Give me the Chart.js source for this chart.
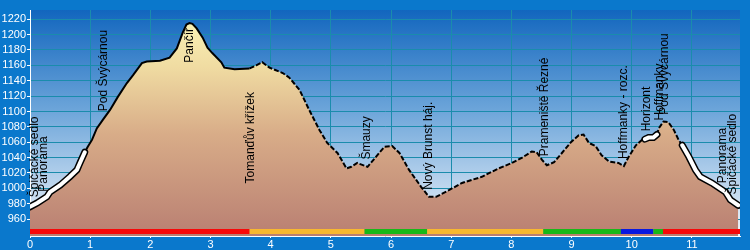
<!DOCTYPE html>
<html>
<head>
<meta charset="utf-8">
<style>
  html, body { margin: 0; padding: 0; background: #0a78cc; }
  #wrap { width: 750px; height: 250px; }
</style>
<script src="https://cdn.jsdelivr.net/npm/chart.js@4/dist/chart.umd.min.js"></script>
</head>
<body>
<div id="wrap"><canvas id="profile" width="750" height="250"></canvas></div>
<script>
// Distance (km) and elevation (m)
const km = [
  0.00, 0.12, 0.28, 0.33, 0.50, 0.66, 0.78, 0.83, 0.91, 0.96,
  1.03, 1.11, 1.21, 1.33, 1.46, 1.61, 1.71, 1.86, 1.94, 2.16,
  2.32, 2.44, 2.54, 2.60, 2.65, 2.70, 2.77, 2.87, 2.95, 3.03,
  3.18, 3.23, 3.40, 3.65, 3.76, 3.86, 3.98, 4.20, 4.31, 4.48,
  4.64, 4.81, 4.94, 5.11, 5.26, 5.34, 5.44, 5.61, 5.75, 5.89,
  6.02, 6.14, 6.30, 6.50, 6.63, 6.75, 6.97, 7.18, 7.51, 7.79,
  8.01, 8.18, 8.34, 8.42, 8.51, 8.59, 8.71, 8.84, 8.99, 9.12,
  9.20, 9.29, 9.40, 9.50, 9.62, 9.78, 9.87, 9.95, 10.07, 10.17,
  10.22, 10.28, 10.36, 10.42, 10.45, 10.53, 10.61, 10.70, 10.78, 10.84,
  10.95, 11.06, 11.14, 11.33, 11.56, 11.64, 11.77
];
const elevation = [
  976, 981, 989, 995, 1004, 1015, 1024, 1033, 1047, 1054,
  1063, 1078, 1089, 1102, 1119, 1137, 1147, 1163, 1165, 1166,
  1170, 1182, 1203, 1213, 1215, 1214, 1208, 1196, 1183, 1176,
  1164, 1157, 1155, 1156, 1160, 1164, 1157, 1150, 1144, 1128,
  1102, 1076, 1059, 1046, 1026, 1028, 1033, 1028, 1041, 1054,
  1055, 1046, 1024, 1002, 989, 989, 998, 1007, 1015, 1026,
  1033, 1040, 1048, 1047, 1037, 1030, 1034, 1046, 1060, 1069,
  1070, 1059, 1055, 1043, 1035, 1033, 1029, 1041, 1056, 1063,
  1064, 1066, 1066, 1070, 1078, 1087, 1086, 1076, 1063, 1056,
  1041, 1024, 1015, 1007, 995, 985, 978
];

const xTicks = [0, 1, 2, 3, 4, 5, 6, 7, 8, 9, 10, 11];
const yTicks = [960, 980, 1000, 1020, 1040, 1060, 1080, 1100, 1120, 1140, 1160, 1180, 1200, 1220];

// Waypoints
const placeNames = [
  "Špičácké sedlo", "Panorama", "Pod Švýcárnou", "Pančíř", "Tomanďův křížek",
  "Šmauzy", "Nový Brunst háj.", "Prameniště Řezné", "Hoffmanky - rozc.",
  "Horizont", "Hoffmanky", "Pod Švýcárnou", "Panorama", "Špičácké sedlo"
];
const placeKm = [0.08, 0.23, 1.23, 2.65, 3.67, 5.6, 6.63, 8.56, 9.87, 10.25, 10.46, 10.55, 11.51, 11.68];

// Trail marking bar along the bottom
const trailFrom = [0, 3.65, 5.56, 6.6, 8.53, 9.82, 10.36, 10.52];
const trailTo = [3.65, 5.56, 6.6, 8.53, 9.82, 10.36, 10.52, 11.8];
const trailColors = ["#f80808", "#f8b830", "#18b818", "#f8b830", "#18b818", "#0818e0", "#18b818", "#f80808"];

// Road stretches (white line) and where the path becomes dashed
const roadFrom = [0, 10.22, 10.84];
const roadTo = [0.92, 10.42, 11.8];
const dashedFrom = 3.65;

const FONT = "'Liberation Sans', Arial, sans-serif";
const gridColor = "#1a8cac";

const profile = km.map((k, i) => ({ x: k, y: elevation[i] }));
const onRoad = (k) => roadFrom.some((f, i) => k >= f - 1e-6 && k <= roadTo[i] + 1e-6);
const roadPoints = profile.map((p) => (onRoad(p.x) ? p : { x: p.x, y: null }));

function elevAt(k) {
  for (let i = 1; i < km.length; i++) {
    if (k <= km[i]) {
      const t = (k - km[i - 1]) / (km[i] - km[i - 1]);
      return elevation[i - 1] + t * (elevation[i] - elevation[i - 1]);
    }
  }
  return elevation[elevation.length - 1];
}

const backdrop = {
  id: "backdrop",
  beforeDraw(chart) {
    const { ctx, chartArea: a } = chart;
    ctx.save();
    ctx.fillStyle = "#0a78cc";
    ctx.fillRect(0, 0, chart.width, chart.height);
    const g = ctx.createLinearGradient(0, a.top, 0, a.bottom);
    g.addColorStop(0, "#1266be");
    g.addColorStop(0.45, "#6ea6da");
    g.addColorStop(1, "#f2f6fb");
    ctx.fillStyle = g;
    ctx.fillRect(a.left, a.top, a.right - a.left, a.bottom - a.top);
    ctx.restore();
  }
};

// pinned tops for labels that don't fit above the line
const pinnedTop = { 3: 28, 4: 92 };

const overlay = {
  id: "overlay",
  afterDatasetsDraw(chart) {
    const { ctx, chartArea: a, scales } = chart;
    const xs = scales.x, ys = scales.y;
    ctx.save();
    // trail bar
    trailFrom.forEach((f, i) => {
      const x0 = xs.getPixelForValue(f);
      const x1 = xs.getPixelForValue(trailTo[i]);
      ctx.fillStyle = trailColors[i];
      ctx.fillRect(x0, a.bottom - 7, x1 - x0, 5);
    });
    // waypoint labels
    ctx.font = "12px " + FONT;
    ctx.fillStyle = "#000";
    ctx.textAlign = "left";
    ctx.textBaseline = "middle";
    placeNames.forEach((name, i) => {
      const x = xs.getPixelForValue(placeKm[i]);
      const w = ctx.measureText(name).width;
      let bottom = ys.getPixelForValue(elevAt(placeKm[i])) - 7;
      if (pinnedTop[i] !== undefined) bottom = pinnedTop[i] + w;
      ctx.save();
      ctx.translate(x, bottom);
      ctx.rotate(-Math.PI / 2);
      ctx.fillText(name, 0, 0);
      ctx.restore();
    });
    ctx.restore();
  }
};

new Chart(document.getElementById("profile"), {
  type: "line",
  data: {
    datasets: [
      {
        data: roadPoints,
        borderColor: "#ffffff",
        borderWidth: 4,
        pointRadius: 0,
        fill: false,
        spanGaps: false,
        borderCapStyle: "round"
      },
      {
        data: roadPoints,
        borderColor: "#000000",
        borderWidth: 7,
        pointRadius: 0,
        fill: false,
        spanGaps: false,
        borderCapStyle: "round"
      },
      {
        // the path line, solid then dashed
        data: profile,
        borderColor: "#000000",
        borderWidth: 2,
        pointRadius: 0,
        fill: false,
        segment: {
          borderDash: (c) => (c.p0.parsed.x >= dashedFrom - 1e-6 ? [5, 2] : undefined)
        }
      },
      {
        // terrain fill
        data: profile,
        borderWidth: 0,
        borderColor: "rgba(0,0,0,0)",
        pointRadius: 0,
        fill: "start",
        backgroundColor: (c) => {
          const a = c.chart.chartArea;
          if (!a) return "#d8b088";
          const g = c.chart.ctx.createLinearGradient(0, a.top, 0, a.bottom);
          g.addColorStop(0, "#fcf7ba");
          g.addColorStop(0.25, "#f0dca2");
          g.addColorStop(0.55, "#d8ac88");
          g.addColorStop(1, "#b97f72");
          return g;
        }
      }
    ]
  },
  options: {
    responsive: false,
    animation: false,
    layout: { padding: { top: 10, right: 10, left: 0, bottom: 0 } },
    plugins: {
      legend: { display: false },
      tooltip: { enabled: false }
    },
    scales: {
      x: {
        type: "linear",
        min: 0,
        max: 11.8,
        afterBuildTicks: (s) => { s.ticks = xTicks.map((v) => ({ value: v })); },
        afterFit: (s) => { s.height = 14; },
        grid: { color: gridColor, tickColor: "#ffffff", tickLength: 2 },
        border: { color: "#ffffff" },
        ticks: {
          color: "#ffffff",
          font: { family: FONT, size: 11 },
          padding: 0,
          maxRotation: 0,
          autoSkip: false,
          callback: (v) => String(v)
        }
      },
      y: {
        min: 938,
        max: 1232,
        afterBuildTicks: (s) => { s.ticks = yTicks.map((v) => ({ value: v })); },
        afterFit: (s) => { s.width = 30; },
        grid: { color: gridColor, tickColor: "#ffffff", tickLength: 3 },
        border: { color: "#ffffff" },
        ticks: {
          color: "#ffffff",
          font: { family: FONT, size: 11 },
          padding: 1,
          autoSkip: false,
          callback: (v) => String(v)
        }
      }
    }
  },
  plugins: [backdrop, overlay]
});
</script>
</body>
</html>
